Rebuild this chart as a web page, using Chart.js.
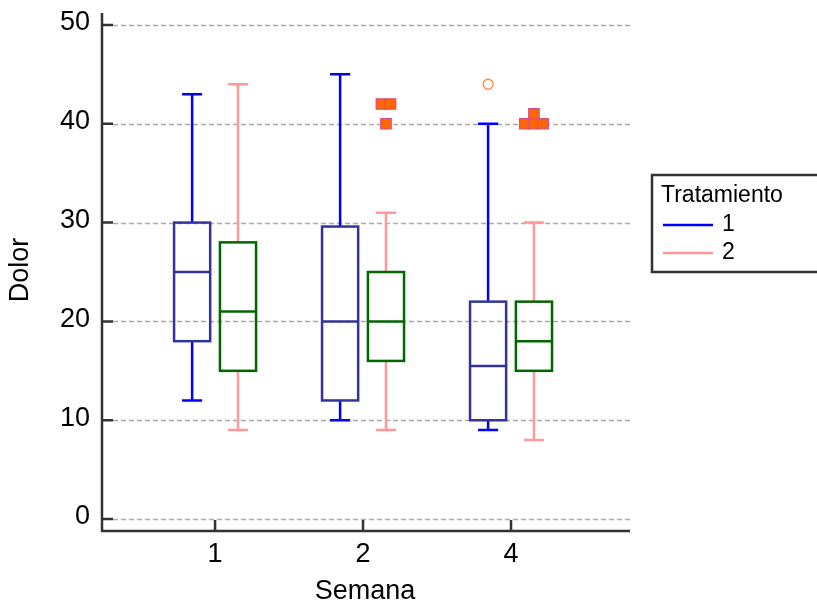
<!DOCTYPE html>
<html>
<head>
<meta charset="utf-8">
<script src="https://cdn.jsdelivr.net/npm/chart.js@4.4.1/dist/chart.umd.min.js"></script>
<style>
  html, body { margin: 0; padding: 0; background: #fff; }
  #wrap { width: 817px; height: 607px; }
</style>
</head>
<body>
<div id="wrap"><canvas id="boxChart"></canvas></div>
<script>
// Semana categories
const weeks = ['1', '2', '4'];
const yTicks = [0, 10, 20, 30, 40, 50];

// Tratamiento 1
const trt1Min = [12, 10, 9];
const trt1Q1 = [18, 12, 10];
const trt1Median = [25, 20, 15.5];
const trt1Q3 = [30, 29.6, 22];
const trt1Max = [43, 45, 40];
const trt1Outside = [[], [], [44]];

// Tratamiento 2
const trt2Min = [9, 9, 8];
const trt2Q1 = [15, 16, 15];
const trt2Median = [21, 20, 18];
const trt2Q3 = [28, 25, 22];
const trt2Max = [44, 31, 30];
const trt2FarOutside = [[], [42, 42, 40], [40, 40, 40, 41]];

const FONT = "'Liberation Sans', Arial, sans-serif";
const groupOffset = 0.155;
const boxHalf = 0.122;
const capHalf = 0.068;
const jitterStep = 0.062;

// spread repeated outliers side by side, like the original plot does
function outlierPoints(lists, offset) {
    const pts = [];
    lists.forEach((vals, i) => {
        const counts = {};
        vals.forEach(v => counts[v] = (counts[v] || 0) + 1);
        const seen = {};
        vals.forEach(v => {
            const n = counts[v];
            const k = seen[v] || 0;
            seen[v] = k + 1;
            pts.push({ x: i + 1 + offset + (k - (n - 1) / 2) * jitterStep, y: v });
        });
    });
    return pts;
}

const boxes = [
    { min: trt1Min, q1: trt1Q1, med: trt1Median, q3: trt1Q3, max: trt1Max,
      offset: -groupOffset, boxColor: '#333399', whiskerColor: '#0000ff' },
    { min: trt2Min, q1: trt2Q1, med: trt2Median, q3: trt2Q3, max: trt2Max,
      offset: groupOffset, boxColor: '#006600', whiskerColor: '#ff9999' }
];

const framePlugin = {
    id: 'frame',
    beforeDatasetsDraw(chart) {
        const { ctx, chartArea, scales } = chart;
        const x = scales.x, y = scales.y;
        ctx.save();

        // dashed grid lines
        ctx.strokeStyle = '#aaaaaa';
        ctx.lineWidth = 1.5;
        ctx.setLineDash([5, 3]);
        yTicks.forEach(t => {
            const py = Math.round(y.getPixelForValue(t)) + 0.5;
            ctx.beginPath();
            ctx.moveTo(chartArea.left + 11, py);
            ctx.lineTo(chartArea.right, py);
            ctx.stroke();
        });
        ctx.setLineDash([]);

        // boxes and whiskers
        ctx.lineWidth = 2.5;
        boxes.forEach(b => {
            weeks.forEach((w, i) => {
                const cx = x.getPixelForValue(i + 1 + b.offset);
                const bl = x.getPixelForValue(i + 1 + b.offset - boxHalf);
                const br = x.getPixelForValue(i + 1 + b.offset + boxHalf);
                const cl = x.getPixelForValue(i + 1 + b.offset - capHalf);
                const cr = x.getPixelForValue(i + 1 + b.offset + capHalf);
                const pMin = y.getPixelForValue(b.min[i]);
                const pQ1 = y.getPixelForValue(b.q1[i]);
                const pMed = y.getPixelForValue(b.med[i]);
                const pQ3 = y.getPixelForValue(b.q3[i]);
                const pMax = y.getPixelForValue(b.max[i]);

                ctx.strokeStyle = b.whiskerColor;
                ctx.beginPath();
                ctx.moveTo(cx, pQ3); ctx.lineTo(cx, pMax);
                ctx.moveTo(cl, pMax); ctx.lineTo(cr, pMax);
                ctx.moveTo(cx, pQ1); ctx.lineTo(cx, pMin);
                ctx.moveTo(cl, pMin); ctx.lineTo(cr, pMin);
                ctx.stroke();

                ctx.strokeStyle = b.boxColor;
                ctx.strokeRect(bl, pQ3, br - bl, pQ1 - pQ3);
                ctx.beginPath();
                ctx.moveTo(bl, pMed); ctx.lineTo(br, pMed);
                ctx.stroke();
            });
        });

        // axis lines with inward ticks
        ctx.strokeStyle = '#333333';
        ctx.lineWidth = 2.5;
        ctx.beginPath();
        ctx.moveTo(chartArea.left, chartArea.top);
        ctx.lineTo(chartArea.left, chartArea.bottom);
        ctx.lineTo(chartArea.right, chartArea.bottom);
        yTicks.forEach(t => {
            const py = y.getPixelForValue(t);
            ctx.moveTo(chartArea.left, py);
            ctx.lineTo(chartArea.left + 11, py);
        });
        weeks.forEach((w, i) => {
            const px = x.getPixelForValue(i + 1);
            ctx.moveTo(px, chartArea.bottom);
            ctx.lineTo(px, chartArea.bottom - 11);
        });
        ctx.stroke();
        ctx.restore();
    },
    afterDraw(chart) {
        const { ctx } = chart;
        ctx.save();
        ctx.fillStyle = '#000';
        ctx.font = '27px ' + FONT;
        ctx.textAlign = 'center';
        ctx.textBaseline = 'middle';
        ctx.fillText('Semana', 365, 592);
        ctx.translate(21, 270);
        ctx.rotate(-Math.PI / 2);
        ctx.fillText('Dolor', 0, 0);
        ctx.restore();

        // legend
        ctx.save();
        ctx.strokeStyle = '#333333';
        ctx.lineWidth = 2.5;
        ctx.strokeRect(652, 175, 220, 97);
        ctx.fillStyle = '#000';
        ctx.font = '23px ' + FONT;
        ctx.textAlign = 'left';
        ctx.textBaseline = 'alphabetic';
        ctx.fillText('Tratamiento', 661, 202);
        [['1', '#0000ff', 225, 231], ['2', '#ff9999', 253, 259]].forEach(([label, color, ly, by]) => {
            ctx.strokeStyle = color;
            ctx.beginPath();
            ctx.moveTo(663, ly);
            ctx.lineTo(713, ly);
            ctx.stroke();
            ctx.fillText(label, 722, by);
        });
        ctx.restore();
    }
};

new Chart(document.getElementById('boxChart'), {
    type: 'scatter',
    data: {
        datasets: [
            {
                label: 'Tratamiento 2 far outside',
                data: outlierPoints(trt2FarOutside, groupOffset),
                pointStyle: 'rect',
                pointRadius: 7.4,
                backgroundColor: '#ff6600',
                borderColor: '#d4508c',
                borderWidth: 1.2
            },
            {
                label: 'Tratamiento 1 outside',
                data: outlierPoints(trt1Outside, -groupOffset),
                pointStyle: 'circle',
                pointRadius: 5,
                backgroundColor: 'rgba(0,0,0,0)',
                borderColor: '#ff8a3d',
                borderWidth: 1.3
            }
        ]
    },
    options: {
        responsive: true,
        maintainAspectRatio: false,
        animation: false,
        layout: { padding: { top: 13, right: 187, left: 0, bottom: 0 } },
        plugins: {
            legend: { display: false },
            tooltip: { enabled: false }
        },
        scales: {
            x: {
                type: 'linear',
                min: 0.236,
                max: 3.804,
                afterBuildTicks: scale => { scale.ticks = weeks.map((w, i) => ({ value: i + 1 })); },
                afterFit: scale => { scale.height = 76; scale.paddingLeft = 0; scale.paddingRight = 0; },
                grid: { display: false, drawTicks: false },
                border: { display: false },
                ticks: {
                    callback: (value) => weeks[value - 1],
                    font: { family: FONT, size: 27 },
                    color: '#000',
                    padding: 7,
                    maxRotation: 0
                }
            },
            y: {
                min: -1.21,
                max: 51.21,
                afterBuildTicks: scale => { scale.ticks = yTicks.map(v => ({ value: v })); },
                afterFit: scale => { scale.width = 102; scale.paddingTop = 0; scale.paddingBottom = 0; },
                grid: { display: false, drawTicks: false },
                border: { display: false },
                ticks: {
                    font: { family: FONT, size: 27 },
                    color: '#000',
                    padding: 12,
                    labelOffset: -2
                }
            }
        }
    },
    plugins: [framePlugin]
});
</script>
</body>
</html>
